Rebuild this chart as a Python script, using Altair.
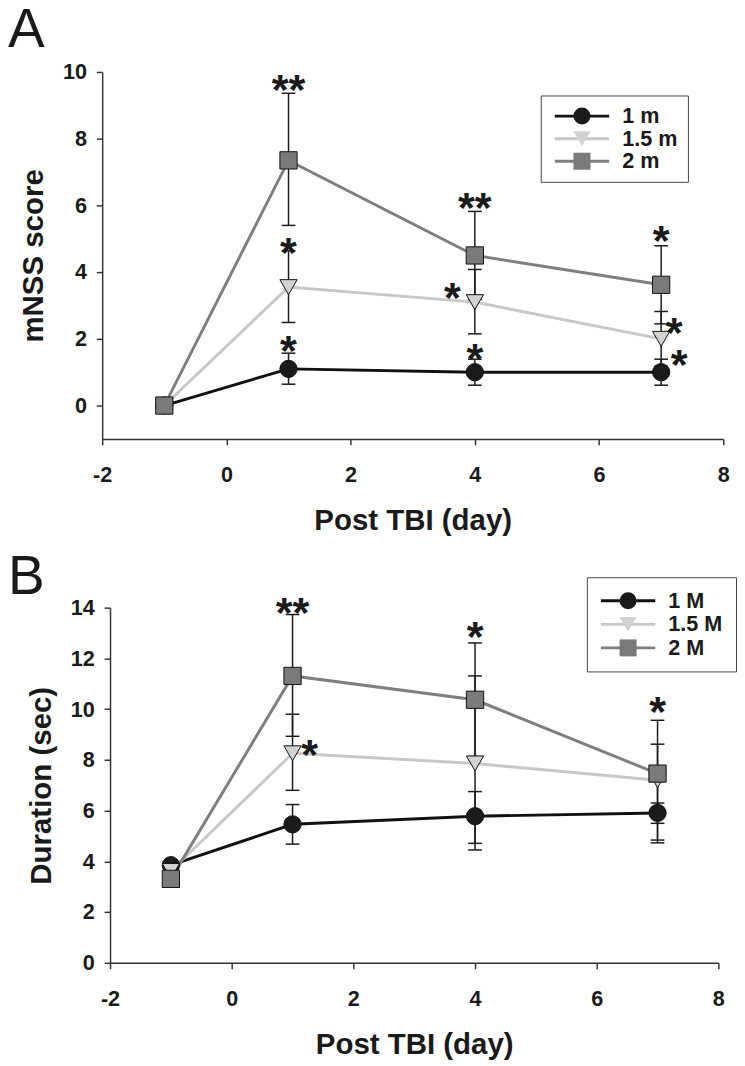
import altair as alt
import pandas as pd

FONT = "Liberation Sans"
INK = "#1a1a1a"

days = [-1, 1, 4, 7]

# ---------------- Panel A (mNSS score) ----------------
a_series = ["1 m", "1.5 m", "2 m"]
a_mean = {
    "1 m":   [0.0, 1.10, 1.00, 1.00],
    "1.5 m": [0.0, 3.55, 3.10, 2.00],
    "2 m":   [0.0, 7.35, 4.50, 3.62],
}
a_upper = {
    "1 m":   [None, 1.57, 1.39, 1.39],
    "1.5 m": [None, 4.64, 4.08, 2.82],
    "2 m":   [None, 9.36, 5.82, 4.79],
}
a_lower = {
    "1 m":   [None, 0.64, 0.61, 0.61],
    "1.5 m": [None, 2.49, 2.15, 1.18],
    "2 m":   [None, 5.40, 3.18, 2.45],
}
a_star_text = ["**", "*", "*", "**", "*", "*", "*", "*", "*"]
a_star_x = [1.0, 1.0, 1.0, 4.0, 3.64, 4.0, 7.0, 7.21, 7.29]
a_star_y = [9.78, 4.90, 1.96, 6.24, 3.53, 1.72, 5.25, 2.50, 1.54]

# ---------------- Panel B (Duration) ----------------
b_series = ["1 M", "1.5 M", "2 M"]
b_mean = {
    "1 M":   [3.85, 5.46, 5.78, 5.91],
    "1.5 M": [3.62, 8.26, 7.86, 7.20],
    "2 M":   [3.31, 11.31, 10.37, 7.46],
}
b_upper = {
    "1 M":   [None, 6.24, 6.75, 6.30],
    "1.5 M": [None, 9.80, 11.31, 8.62],
    "2 M":   [None, 13.73, 12.61, 9.56],
}
b_lower = {
    "1 M":   [None, 4.68, 4.71, 4.84],
    "1.5 M": [None, 6.80, 4.45, 4.73],
    "2 M":   [None, 8.93, 8.13, 5.50],
}
b_star_text = ["**", "*", "*", "*"]
b_star_x = [1.0, 1.28, 4.0, 7.0]
b_star_y = [14.2, 8.62, 13.26, 10.3]

line_colors = ["#111111", "#c8c8c8", "#7f7f7f"]
fill_colors = ["#1a1a1a", "#d2d2d2", "#7a7a7a"]
shapes = ["circle", "triangle-down", "square"]
x_ticks = [-2, 0, 2, 4, 6, 8]


def build_panel(series, mean, upper, lower, star_text, star_x, star_y,
                ydomain, yvalues, ytitle, width, height, xrange, yoffset,
                legend_x, legend_y, leg_pad, leg_rowpad, leg_symoff,
                letter, title_dy):
    rows = []
    for s in series:
        for d, m, u, l in zip(days, mean[s], upper[s], lower[s]):
            rows.append({"day": d, "value": m, "up": u, "lo": l,
                         "series": s, "grp": s})
    df = pd.DataFrame(rows)
    err = df.dropna(subset=["up"])
    stars = pd.DataFrame({"x": star_x, "y": star_y, "t": star_text})

    xscale = alt.Scale(domain=[-2, 8], range=xrange, nice=False, zero=False)
    yscale = alt.Scale(domain=ydomain, nice=False, zero=False)
    xaxis = alt.Axis(values=x_ticks, title="Post TBI (day)",
                     labelExpr="datum.value + ''", labelFlush=False,
                     labelPadding=20, titlePadding=21)
    yaxis = alt.Axis(values=yvalues, title=ytitle, offset=yoffset,
                     labelExpr="datum.value + ''",
                     labelPadding=10, titlePadding=14)

    X = alt.X("day:Q", scale=xscale, axis=xaxis)
    Y = alt.Y("value:Q", scale=yscale, axis=yaxis)

    common_leg = dict(orient="none", legendX=legend_x, legendY=legend_y,
                      title=None, padding=leg_pad, rowPadding=leg_rowpad,
                      symbolSize=300, labelFontSize=22, labelFont=FONT,
                      labelFontWeight="bold", labelColor=INK,
                      labelOffset=30, symbolOffset=leg_symoff)

    lines = alt.Chart(df).mark_line(strokeWidth=3).encode(
        x=X, y=Y,
        color=alt.Color("series:N",
                        scale=alt.Scale(domain=series, range=line_colors),
                        legend=alt.Legend(symbolType="M-3.2,0H3.2",
                                          symbolStrokeWidth=3,
                                          strokeColor="#444",
                                          fillColor="white",
                                          **common_leg)),
        order="day:Q",
    )

    rules = alt.Chart(err).mark_rule(color=INK, strokeWidth=1.5).encode(
        x=alt.X("day:Q", scale=xscale),
        y=alt.Y("lo:Q", scale=yscale),
        y2="up:Q",
    )
    cap_hi = alt.Chart(err).mark_tick(orient="horizontal", size=14,
                                      thickness=1.5, color=INK,
                                      opacity=1).encode(
        x=alt.X("day:Q", scale=xscale),
        y=alt.Y("up:Q", scale=yscale),
    )
    cap_lo = alt.Chart(err).mark_tick(orient="horizontal", size=14,
                                      thickness=1.5, color=INK,
                                      opacity=1).encode(
        x=alt.X("day:Q", scale=xscale),
        y=alt.Y("lo:Q", scale=yscale),
    )

    # marker legend drawn on top of the line legend (labels left empty)
    mleg = alt.Legend(symbolStrokeColor="#111111", symbolStrokeWidth=1,
                      labelExpr="''", **common_leg)
    points = alt.Chart(df).mark_point(filled=True, size=310, stroke="#111111",
                                      strokeWidth=1, opacity=1).encode(
        x=X, y=Y,
        fill=alt.Fill("grp:N", scale=alt.Scale(domain=series,
                                               range=fill_colors),
                      legend=mleg),
        shape=alt.Shape("grp:N", scale=alt.Scale(domain=series, range=shapes),
                        legend=mleg),
    )

    star_marks = alt.Chart(stars).mark_text(
        font=FONT, fontSize=44, fontWeight="bold", color=INK,
        baseline="alphabetic", align="center", dy=25,
    ).encode(
        x=alt.X("x:Q", scale=xscale),
        y=alt.Y("y:Q", scale=yscale),
        text="t:N",
    )

    return alt.layer(lines, rules, cap_hi, cap_lo, points, star_marks).properties(
        width=width, height=height,
        title=alt.TitleParams(text=letter, anchor="start", frame="group",
                              fontSize=56, fontWeight="normal", font=FONT,
                              color=INK, dx=-96, dy=title_dy, offset=0),
    ).resolve_scale(color="independent", fill="independent",
                    shape="independent")


panel_a = build_panel(a_series, a_mean, a_upper, a_lower,
                      a_star_text, a_star_x, a_star_y,
                      [-1, 10], [0, 2, 4, 6, 8, 10], "mNSS score",
                      633, 374, [0, 633], 0, 447, 24, 10, 1, 21, "A", -2)
panel_b = build_panel(b_series, b_mean, b_upper, b_lower,
                      b_star_text, b_star_x, b_star_y,
                      [0, 14], [0, 2, 4, 6, 8, 10, 12, 14], "Duration (sec)",
                      628, 362, [8, 628], -8, 494, -31, 13, 2, 18, "B", 30)

chart = alt.vconcat(panel_a, panel_b, spacing=15).resolve_scale(
    color="independent", fill="independent", shape="independent",
    x="independent", y="independent",
).resolve_legend(
    color="independent", fill="independent", shape="independent",
).configure_view(stroke=None).configure_axis(
    labelFont=FONT, labelFontSize=22, labelFontWeight="bold", labelColor=INK,
    titleFont=FONT, titleFontSize=30, titleFontWeight="bold", titleColor=INK,
    domainColor="#333333", domainWidth=1.5, tickColor="#333333", tickWidth=1.5,
    tickSize=6, grid=False,
).properties(padding={"left": 0, "top": -15, "right": 0, "bottom": 0})

chart.save("out.html", embed_options={"renderer": "svg", "actions": False})
